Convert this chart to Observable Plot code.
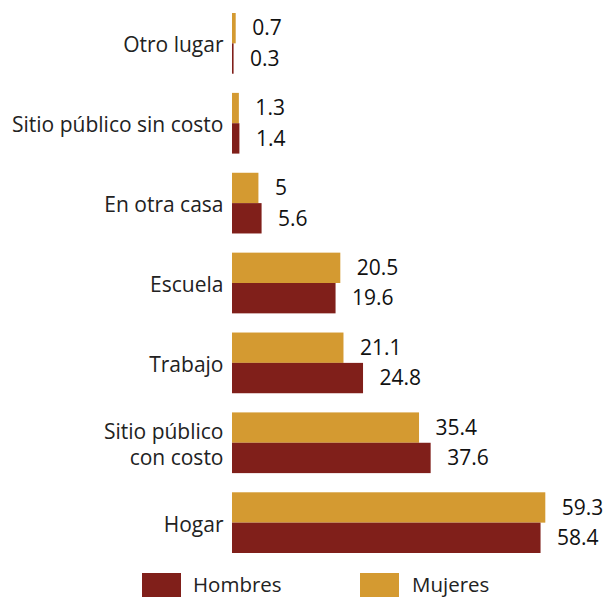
<!DOCTYPE html>
<html>
<head>
<meta charset="utf-8">
<script src="https://cdn.jsdelivr.net/npm/d3@7"></script>
<script src="https://cdn.jsdelivr.net/npm/@observablehq/plot@0.6"></script>
<style>
  body { margin: 0; background: #fff; font-family: "Open Sans", sans-serif; }
  #legend { position: relative; height: 39px; width: 611px; }
  .sw { position: absolute; top: 13px; width: 39px; height: 24px; }
  .lt { position: absolute; top: 10px; font-size: 20.5px; color: #222; line-height: 28px; }
</style>
</head>
<body>
<div id="chart"></div>
<div id="legend">
  <div class="sw" style="left:142px;background:#801F1A"></div><div class="lt" style="left:193px">Hombres</div>
  <div class="sw" style="left:360px;background:#D49A31"></div><div class="lt" style="left:412px">Mujeres</div>
</div>
<script>
const categorias = ["Otro lugar", "Sitio público sin costo", "En otra casa", "Escuela", "Trabajo", "Sitio público\ncon costo", "Hogar"];
const mujeres = [0.7, 1.3, 5, 20.5, 21.1, 35.4, 59.3];
const hombres = [0.3, 1.4, 5.6, 19.6, 24.8, 37.6, 58.4];
const series = ["Mujeres", "Hombres"];
const colores = ["#D49A31", "#801F1A"];

const data = [];
categorias.forEach((c, i) => {
  data.push({categoria: c, sexo: "Mujeres", valor: mujeres[i]});
  data.push({categoria: c, sexo: "Hombres", valor: hombres[i]});
});

const chart = Plot.plot({
  width: 611,
  height: 560,
  marginLeft: 232,
  marginRight: 62,
  marginTop: 13,
  marginBottom: 7,
  style: {fontFamily: "Open Sans, sans-serif", fontSize: "21px", color: "#222", background: "#fff"},
  x: {domain: [0, 60], axis: null},
  y: {domain: series, axis: null, padding: 0, round: false},
  fy: {domain: categorias, paddingInner: 0.24, paddingOuter: 0, round: false, label: null, axis: null},
  color: {domain: series, range: colores},
  marks: [
    Plot.axisFy({anchor: "left", tickSize: 0, tickPadding: 9, fontSize: 21, lineHeight: 1.25, fill: "#222", label: null}),
    Plot.barX(data, {x: "valor", y: "sexo", fy: "categoria", fill: "sexo"}),
    Plot.text(data, {x: "valor", y: "sexo", fy: "categoria", text: d => String(d.valor), textAnchor: "start", dx: 16, fontSize: 21, fill: "#111"})
  ]
});
document.getElementById("chart").appendChild(chart);
</script>
</body>
</html>
